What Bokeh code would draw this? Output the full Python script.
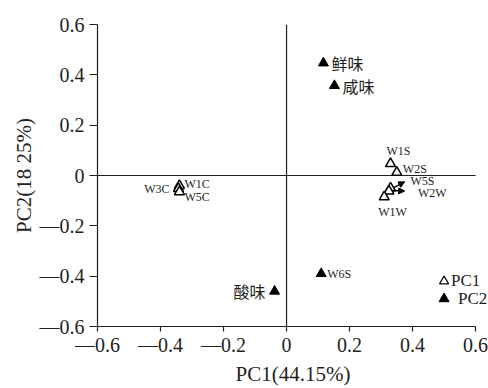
from bokeh.plotting import figure
from bokeh.models import Span, FixedTicker, Range1d, ColumnDataSource, Arrow, NormalHead, CustomJSTickFormatter
from bokeh.core.properties import value
from bokeh.embed import file_html
from bokeh.resources import INLINE

# ---- data ----
filled_names = ["鲜味", "咸味", "酸味", "W6S"]
filled_x = [0.117, 0.152, -0.038, 0.11]
filled_y = [0.447, 0.357, -0.46, -0.39]

open_names = ["W1C", "W3C", "W5C", "W1S", "W2S", "W5S", "W2W", "W1W"]
open_x = [-0.34, -0.343, -0.34, 0.33, 0.35, 0.33, 0.325, 0.31]
open_y = [-0.04, -0.052, -0.065, 0.047, 0.012, -0.05, -0.062, -0.085]

legend_names = ["PC1", "PC2"]
legend_x = [0.5, 0.5]
legend_y = [-0.42, -0.49]

x_ticks = [-0.6, -0.4, -0.2, 0, 0.2, 0.4, 0.6]
x_tick_labels = ["—0.6", "—0.4", "—0.2", "0", "0.2", "0.4", "0.6"]
y_ticks = [-0.6, -0.4, -0.2, 0, 0.2, 0.4, 0.6]
y_tick_labels = ["—0.6", "—0.4", "—0.2", "0", "0.2", "0.4", "0.6"]

x_label = "PC1(44.15%)"
y_label = "PC2(18 25%)"

# ---- styles ----
SERIF = "Liberation Serif"
CJK = "Noto Sans CJK SC"
INK = "#231f20"

p = figure(width=488, height=388, output_backend="svg", toolbar_location=None,
           x_range=Range1d(-0.6, 0.641), y_range=Range1d(-0.6, 0.6),
           min_border_left=97, min_border_right=0, min_border_top=24, min_border_bottom=61)
p.outline_line_color = None
p.grid.visible = False
p.background_fill_color = "white"

JS = """
let best = 0, bd = Infinity;
for (let i = 0; i < tvals.length; i++) {
  const d = Math.abs(tvals[i] - tick);
  if (d < bd) { bd = d; best = i; }
}
return bd < 1e-6 ? tlabels[best] : String(tick);
"""

for ax, ticks, labels in ((p.xaxis[0], x_ticks, x_tick_labels), (p.yaxis[0], y_ticks, y_tick_labels)):
    ax.ticker = FixedTicker(ticks=ticks)
    ax.bounds = (ticks[0], ticks[-1])
    ax.formatter = CustomJSTickFormatter(args=dict(tvals=ticks, tlabels=labels), code=JS)
    ax.minor_tick_line_color = None
    ax.major_tick_in = 0
    ax.axis_line_color = INK
    ax.major_tick_line_color = INK
    ax.axis_line_width = 1.2
    ax.major_tick_line_width = 1.2
    ax.major_label_text_font = SERIF
    ax.major_label_text_font_size = "20px"
    ax.major_label_text_color = INK
    ax.axis_label_text_font = SERIF
    ax.axis_label_text_font_size = "21px"
    ax.axis_label_text_font_style = "normal"
    ax.axis_label_text_color = INK

p.xaxis.major_tick_out = 5
p.yaxis.major_tick_out = 8
p.xaxis.axis_label = x_label
p.yaxis.axis_label = y_label
p.xaxis.major_label_standoff = 2
p.xaxis.axis_label_standoff = 3
p.yaxis.major_label_standoff = 5
p.yaxis.axis_label_standoff = 1

# crosshair through the origin, spanning the axis extent
p.add_layout(Span(location=0, dimension="height", line_color=INK, line_width=1.2))
p.segment(x0=[x_ticks[0]], y0=[0], x1=[x_ticks[-1]], y1=[0], line_color=INK, line_width=1.2)

# markers
p.scatter(filled_x, filled_y, marker="triangle", size=10, fill_color="black", line_color="black")
p.scatter(open_x, open_y, marker="triangle", size=10, fill_color="white", line_color="black", line_width=1.5)
p.scatter(legend_x[:1], legend_y[:1], marker="triangle", size=9, fill_color="white", line_color="black", line_width=1.3)
p.scatter(legend_x[1:], legend_y[1:], marker="triangle", size=10, fill_color="black", line_color="black")

# label placement (pixel offsets), per name
offsets = {
    "鲜味": (8, 0, "left"), "咸味": (8, 0, "left"), "酸味": (-9, 0, "right"), "W6S": (6, 0, "left"),
    "W1C": (5, 2, "left"), "W3C": (-9, 0, "right"), "W5C": (5, -5, "left"),
    "W1S": (-4, 13, "left"), "W2S": (6, 3, "left"), "W5S": (20, 7, "left"),
    "W2W": (29, -2, "left"), "W1W": (-6, -15, "left"),
    "PC1": (7, 1, "left"), "PC2": (14, 0, "left"),
}

def add_labels(names, xs, ys, font, size):
    for align in ("left", "right"):
        sel = [i for i, n in enumerate(names) if offsets[n][2] == align]
        if not sel:
            continue
        src = ColumnDataSource(dict(
            x=[xs[i] for i in sel], y=[ys[i] for i in sel], t=[names[i] for i in sel],
            xo=[offsets[names[i]][0] for i in sel], yo=[-offsets[names[i]][1] for i in sel]))
        p.text(x="x", y="y", text="t", x_offset="xo", y_offset="yo", source=src,
               text_font=value(font), text_font_size=size, text_color=INK,
               text_align=align, text_baseline="middle")

cjk_idx = [i for i, n in enumerate(filled_names) if not n.isascii()]
lat_idx = [i for i, n in enumerate(filled_names) if n.isascii()]
add_labels([filled_names[i] for i in cjk_idx], [filled_x[i] for i in cjk_idx], [filled_y[i] for i in cjk_idx], CJK, "16px")
add_labels([filled_names[i] for i in lat_idx], [filled_x[i] for i in lat_idx], [filled_y[i] for i in lat_idx], SERIF, "12px")
add_labels(open_names, open_x, open_y, SERIF, "12px")
add_labels(legend_names, legend_x, legend_y, SERIF, "17px")

# leader arrows from W5S and W2W points toward their labels (data-unit deltas)
lead = {"W5S": (0.045, 0.025), "W2W": (0.05, 0.0)}
for n, (dx, dy) in lead.items():
    i = open_names.index(n)
    p.add_layout(Arrow(x_start=open_x[i] + 0.01, y_start=open_y[i] + 0.002,
                       x_end=open_x[i] + dx, y_end=open_y[i] + dy,
                       line_color="black", line_width=1.5,
                       end=NormalHead(size=6, fill_color="black", line_color="black")))

open("out.html", "w").write(file_html(p, INLINE))
